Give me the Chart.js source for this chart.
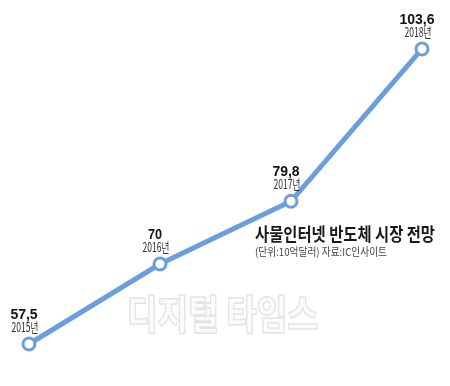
<!DOCTYPE html>
<html>
<head>
<meta charset="utf-8">
<script src="https://cdn.jsdelivr.net/npm/chart.js@4"></script>
<style>
  body { margin: 0; background: #fff; }
</style>
</head>
<body>
<canvas id="chart" width="450" height="386"></canvas>
<script>
// ---------------- DATA ----------------

const years = ["2015년", "2016년", "2017년", "2018년"];
const values = [57.5, 70, 79.8, 103.6];

const title = "사물인터넷 반도체 시장 전망";
const subtitle = "(단위:10억달러) 자료:IC인사이트";
const watermark = "디지털 타임스";

const lineColor = "#6a9fdb";
const font = "'Noto Sans CJK KR', 'Liberation Sans', sans-serif";

// ---------------- PLUGINS ----------------

const watermarkPlugin = {
    id: "watermark",
    beforeDatasetsDraw(chart) {
        const ctx = chart.ctx;
        ctx.save();
        ctx.font = "900 40px " + font;
        ctx.textAlign = "left";
        ctx.textBaseline = "alphabetic";
        ctx.fillStyle = "#fbfbfb";
        ctx.strokeStyle = "#e4e4e4";
        ctx.lineWidth = 1.5;
        ctx.fillText(watermark, 127, 329, 191);
        ctx.strokeText(watermark, 127, 329, 191);
        ctx.restore();
    }
};

const labelPlugin = {
    id: "labels",
    afterDatasetsDraw(chart) {
        const ctx = chart.ctx;
        const pts = chart.getDatasetMeta(0).data;
        ctx.save();
        ctx.textAlign = "center";
        ctx.textBaseline = "alphabetic";
        pts.forEach((p, i) => {
            const txt = String(values[i]).replace(".", ",");
            ctx.fillStyle = "#111";
            ctx.font = "bold 14px 'Liberation Sans', sans-serif";
            ctx.fillText(txt, p.x - 5, p.y - 25, txt.length * 7);
            ctx.fillStyle = "#333";
            ctx.font = "13px " + font;
            ctx.fillText(years[i], p.x - 4, p.y - 12, 27);
        });

        ctx.textAlign = "left";
        ctx.fillStyle = "#1a1a1a";
        ctx.font = "bold 18px " + font;
        ctx.fillText(title, 255, 241, 180);
        ctx.fillStyle = "#444";
        ctx.font = "11px " + font;
        ctx.fillText(subtitle, 255, 256, 132);
        ctx.restore();
    }
};

// ---------------- CHART ----------------

const ctx = document.getElementById("chart").getContext("2d");

new Chart(ctx, {
    type: "line",
    data: {
        labels: years,
        datasets: [{
            data: values,
            borderColor: lineColor,
            borderWidth: 5,
            pointRadius: 6,
            pointBorderWidth: 3,
            pointBackgroundColor: "#fff",
            pointBorderColor: lineColor,
            tension: 0,
            fill: false,
            clip: false
        }]
    },
    options: {
        responsive: false,
        animation: false,
        layout: {
            padding: { left: 29, right: 28, top: 40, bottom: 26 }
        },
        plugins: {
            legend: { display: false },
            tooltip: { enabled: false }
        },
        scales: {
            x: { display: false, offset: false },
            y: { display: false, min: 55, max: 105 }
        }
    },
    plugins: [watermarkPlugin, labelPlugin]
});
</script>
</body>
</html>
